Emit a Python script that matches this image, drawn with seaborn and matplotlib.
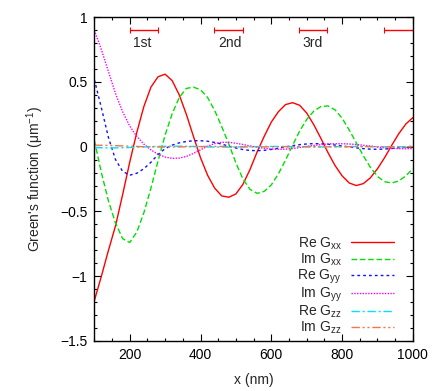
import numpy as np
import pandas as pd
import matplotlib
matplotlib.use("Agg")
import matplotlib.pyplot as plt
import seaborn as sns
from matplotlib.ticker import MultipleLocator, FuncFormatter

# sample positions (nm)
x_nm = list(range(100, 1001, 20))

re_gxx = [-1.19, -1.00, -0.80, -0.61, -0.37, -0.12, 0.11, 0.31, 0.46, 0.54,
          0.56, 0.51, 0.40, 0.25, 0.08, -0.085, -0.22, -0.32, -0.38, -0.39,
          -0.365, -0.29, -0.175, -0.04, 0.08, 0.19, 0.27, 0.325, 0.34, 0.32,
          0.26, 0.17, 0.065, -0.045, -0.145, -0.225, -0.28, -0.30, -0.285, -0.24,
          -0.17, -0.085, 0.01, 0.10, 0.175, 0.225]
im_gxx = [0.05, -0.20, -0.42, -0.59, -0.71, -0.74, -0.66, -0.51, -0.32, -0.11,
          0.09, 0.255, 0.38, 0.45, 0.46, 0.44, 0.38, 0.28, 0.155, 0.02,
          -0.125, -0.25, -0.33, -0.36, -0.345, -0.295, -0.21, -0.105, 0.01, 0.12,
          0.21, 0.275, 0.31, 0.315, 0.285, 0.22, 0.13, 0.03, -0.07, -0.16,
          -0.23, -0.27, -0.28, -0.265, -0.225, -0.17]
re_gyy = [0.52, 0.30, 0.07, -0.10, -0.19, -0.22, -0.205, -0.17, -0.12, -0.06,
          -0.015, 0.012, 0.03, 0.04, 0.046, 0.046, 0.042, 0.033, 0.02, 0.004,
          -0.01, -0.022, -0.029, -0.031, -0.028, -0.021, -0.012, -0.002, 0.008, 0.016,
          0.021, 0.024, 0.023, 0.019, 0.013, 0.006, -0.002, -0.009, -0.015, -0.019,
          -0.02, -0.018, -0.014, -0.008, -0.002, 0.004]
im_gyy = [0.90, 0.75, 0.58, 0.41, 0.27, 0.16, 0.08, 0.02, -0.025, -0.058,
          -0.08, -0.09, -0.088, -0.075, -0.052, -0.024, 0.004, 0.024, 0.034, 0.034,
          0.027, 0.017, 0.006, -0.004, -0.012, -0.018, -0.02, -0.019, -0.014, -0.006,
          0.002, 0.01, 0.016, 0.021, 0.023, 0.023, 0.021, 0.017, 0.011, 0.005,
          -0.002, -0.008, -0.012, -0.015, -0.016, -0.015]
re_gzz = [-0.005, -0.008, -0.009, -0.009, -0.008, -0.006, -0.004, -0.002, 0.0, 0.002,
          0.003, 0.004, 0.004, 0.003, 0.002, 0.0, -0.002, -0.003, -0.003, -0.003,
          -0.002, -0.001, 0.0, 0.001, 0.002, 0.002, 0.002, 0.001, 0.0, -0.001,
          -0.002, -0.002, -0.002, -0.001, 0.0, 0.001, 0.001, 0.002, 0.001, 0.001,
          0.0, -0.001, -0.001, -0.001, -0.001, 0.0]
im_gzz = [0.012, 0.011, 0.010, 0.008, 0.006, 0.004, 0.002, 0.0, -0.001, -0.002,
          -0.003, -0.003, -0.002, -0.001, 0.0, 0.001, 0.002, 0.002, 0.002, 0.001,
          0.0, -0.001, -0.002, -0.002, -0.001, -0.001, 0.0, 0.001, 0.001, 0.001,
          0.001, 0.0, 0.0, -0.001, -0.001, -0.001, 0.0, 0.0, 0.001, 0.001,
          0.0, 0.0, 0.0, -0.001, -0.001, 0.0]

series_names = [r"Re G$_{\mathrm{xx}}$", r"Im G$_{\mathrm{xx}}$",
                r"Re G$_{\mathrm{yy}}$", r"Im G$_{\mathrm{yy}}$",
                r"Re G$_{\mathrm{zz}}$", r"Im G$_{\mathrm{zz}}$"]
series_vals = [re_gxx, im_gxx, re_gyy, im_gyy, re_gzz, im_gzz]

# order marks at top
order_centers = [240, 478, 717, 960]
order_halfwidth = [40, 41, 40, 42]
order_level = [0.9, 0.9, 0.9, 0.9]
order_labels = ["1st", "2nd", "3rd"]
order_label_x = [236, 482, 716]

colors = ["#ff0000", "#00e000", "#1010ff", "#ff00ff", "#00e0ff", "#f07848"]
dashes = ["", (4, 2), (2, 2.2), (1, 1), (6, 2, 1.5, 2), (6, 2, 1.5, 2, 1.5, 2)]

df = pd.concat([pd.DataFrame({"x": x_nm, "G": v, "series": n})
                for n, v in zip(series_names, series_vals)], ignore_index=True)

sns.set_theme(style="ticks")
plt.rcParams["font.family"] = ["Liberation Sans", "DejaVu Sans"]
plt.rcParams["mathtext.fontset"] = "custom"
plt.rcParams["mathtext.rm"] = "Liberation Sans"
plt.rcParams["mathtext.it"] = "Liberation Sans:italic"

fig = plt.figure(figsize=(4.36, 3.91), dpi=100)
ax = fig.add_axes([0.2163, 0.128, 0.947 - 0.2163, 0.956 - 0.128])

sns.lineplot(data=df, x="x", y="G", hue="series", style="series",
             hue_order=series_names, style_order=series_names,
             palette=dict(zip(series_names, colors)),
             dashes=dict(zip(series_names, dashes)),
             estimator=None, linewidth=1.0, ax=ax)

ax.errorbar(order_centers, order_level, xerr=order_halfwidth, fmt="none",
            ecolor="#ff0000", elinewidth=1.0, capsize=2, capthick=0.8, clip_on=True)
for lx, lt in zip(order_label_x, order_labels):
    ax.text(lx, 0.80, lt, ha="center", va="center", fontsize=10)

ax.set_xlim(100, 1000)
ax.set_ylim(-1.5, 1)
ax.xaxis.set_major_locator(MultipleLocator(200))
ax.xaxis.set_minor_locator(MultipleLocator(50))
ax.yaxis.set_major_locator(MultipleLocator(0.5))
ax.yaxis.set_minor_locator(MultipleLocator(0.1))
fmt = FuncFormatter(lambda v, p: ("%g" % v).replace("-", "\u2212"))
ax.xaxis.set_major_formatter(fmt)
ax.yaxis.set_major_formatter(fmt)
ax.xaxis.set_ticks([200, 400, 600, 800, 1000])
ax.tick_params(which="both", direction="in", top=True, right=True,
               labelsize=10, colors="black", width=0.8)
ax.tick_params(which="major", length=5, pad=5)
ax.tick_params(which="minor", length=2.5)
for s in ax.spines.values():
    s.set_color("black")
    s.set_linewidth(1.0)

ax.set_xlabel("x (nm)", fontsize=10, labelpad=8)
ax.set_ylabel("Green's function (\u03bcm$^{\u22121}$)", fontsize=10, labelpad=10)

handles, labels = ax.get_legend_handles_labels()
ax.legend(handles, labels, loc="lower right", bbox_to_anchor=(0.94, 0.015),
          frameon=False, markerfirst=False, fontsize=10, handlelength=3.1,
          handletextpad=0.65, labelspacing=-0.02, borderpad=0, borderaxespad=0)

fig.savefig("out.png", dpi=100)
